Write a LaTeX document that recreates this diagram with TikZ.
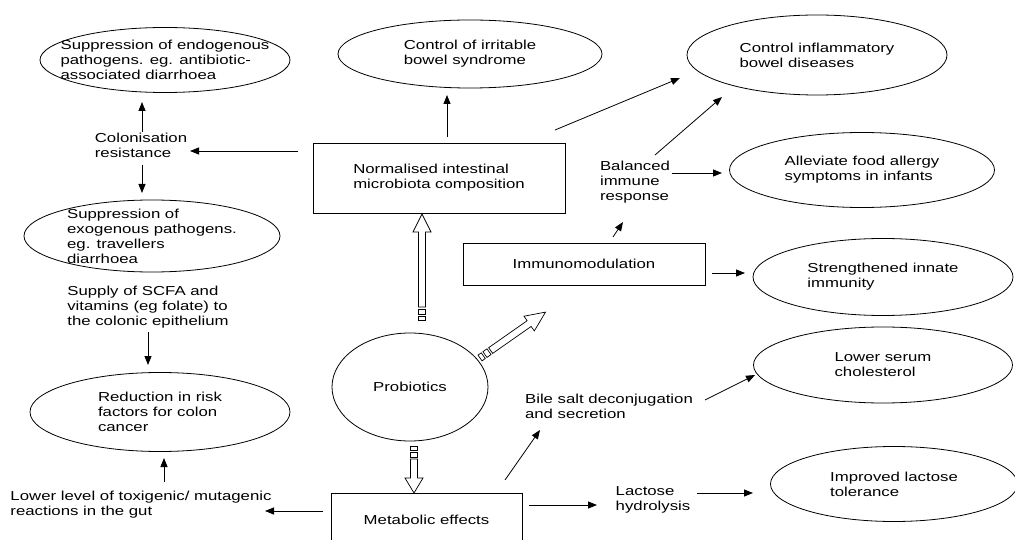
\documentclass[tikz,border=0pt]{standalone}
\usepackage{fontspec}
\setmainfont{Liberation Sans}[FakeStretch=1.29]
\usetikzlibrary{arrows.meta,shapes.geometric}
\tikzset{
  ell/.style={ellipse, draw, inner sep=0pt, line width=0.8pt},
  boxnode/.style={rectangle, draw, inner sep=0pt, line width=0.8pt, align=left, font=\fontsize{13}{15}\selectfont},
  txt/.style={align=left, inner sep=0pt, font=\fontsize{13}{15}\selectfont},
  arr/.style={line width=0.8pt, -{Triangle[length=9pt,width=7pt]}},
  hol/.style={line width=0.7pt, fill=white}
}
\newcommand\HollowArr[4]{%
  \begin{scope}[shift={#1},rotate=#2]
    \draw[hol] (0,-3.5) rectangle (4,3.5);
    \draw[hol] (6,-3.5) rectangle (11,3.5);
    \draw[hol] (13,-3.5) -- ({#3-#4},-3.5) -- ({#3-#4},-9) -- (#3,0) -- ({#3-#4},9) -- ({#3-#4},3.5) -- (13,3.5) -- cycle;
  \end{scope}}
\begin{document}
\begin{tikzpicture}[x=1pt,y=-1pt]
\useasboundingbox (0,0) rectangle (1015,540);
\fill[white] (0,0) rectangle (1015,540);
\clip (0,0) rectangle (1015,540);

% ellipses
\node[ell, minimum width=250, minimum height=65] (e1) at (165,60) {};
\node[txt] (e1t) at (e1) {Suppression of endogenous\\pathogens. eg. antibiotic-\\associated diarrhoea};
\node[ell, minimum width=264, minimum height=68] (ibs) at (470,54) {};
\node[txt] (ibst) at (ibs) {Control of irritable\\bowel syndrome};
\node[ell, minimum width=260, minimum height=80] (ibd) at (817,55) {};
\node[txt] (ibdt) at (ibd) {Control inflammatory\\bowel diseases};
\node[ell, minimum width=265, minimum height=75] (all) at (862,170) {};
\node[txt] (allt) at (all) {Alleviate food allergy\\symptoms in infants};
\node[ell, minimum width=256, minimum height=72] (e2) at (152,236) {};
\node[txt] (e2t) at (e2) {Suppression of\\exogenous pathogens.\\eg. travellers\\diarrhoea};
\node[ell, minimum width=260, minimum height=77] (str) at (883,277) {};
\node[txt] (strt) at (str) {Strengthened innate\\immunity};
\node[ell, minimum width=259, minimum height=76] (chol) at (883,365) {};
\node[txt] (cholt) at (chol) {Lower serum\\cholesterol};
\node[ell, minimum width=260, minimum height=79] (e3) at (160,412) {};
\node[txt] (e3t) at (e3) {Reduction in risk\\factors for colon\\cancer};
\node[ell, minimum width=247, minimum height=75] (imp) at (894,484) {};
\node[txt] (impt) at (imp) {Improved lactose\\tolerance};
\node[ell, minimum width=156, minimum height=108] (prob) at (410,387) {};
\node[txt] (probt) at (prob) {Probiotics};

% boxes
\node[boxnode, minimum width=252, minimum height=70] (nb) at (439,178) {Normalised intestinal\\microbiota composition};
\node[boxnode, minimum width=242, minimum height=42] (imm) at (584,264) {Immunomodulation};
\node[boxnode, minimum width=191, minimum height=54] (met) at (426.5,520) {Metabolic effects};

% free texts
\node[txt] (col) at (141,145) {Colonisation\\resistance};
\node[txt] (sup) at (148,307) {Supply of SCFA and\\vitamins (eg folate) to\\the colonic epithelium};
\node[txt] (bal) at (635,182) {Balanced\\immune\\response};
\node[txt] (bile) at (609,406) {Bile salt deconjugation\\and secretion};
\node[txt] (lac) at (653,500) {Lactose\\hydrolysis};
\node[txt] (low) at (141,505) {Lower level of toxigenic/ mutagenic\\reactions in the gut};

% arrows
\draw[arr] ([xshift=-141pt,yshift=27pt]nb.center) -- ([xshift=49pt,yshift=-6pt]col.center);
\draw[arr] ([xshift=1pt,yshift=13pt]col.center) -- ([xshift=-23pt,yshift=-42pt]e1.center);
\draw[arr] ([xshift=1pt,yshift=-20pt]col.center) -- ([xshift=-10pt,yshift=43pt]e2.center);
\draw[arr] ([yshift=-25pt]sup.center) -- ([xshift=-12pt,yshift=47pt]e3.center);
\draw[arr] ([xshift=23pt,yshift=23pt]low.center) -- ([xshift=4pt,yshift=-46pt]e3.center);
\draw[arr] ([xshift=-103.5pt,yshift=9pt]met.center) -- ([xshift=124pt,yshift=-6pt]low.center);
\draw[arr] ([xshift=8pt,yshift=41pt]nb.center) -- ([xshift=-23pt,yshift=-41pt]ibs.center);
\draw[arr] ([xshift=116pt,yshift=48pt]nb.center) -- ([xshift=-137pt,yshift=-23pt]ibd.center);
\draw[arr] ([xshift=29pt,yshift=27pt]imm.center) -- ([xshift=-12pt,yshift=-40pt]bal.center);
\draw[arr] ([xshift=20pt,yshift=27pt]bal.center) -- ([xshift=-95pt,yshift=-42pt]ibd.center);
\draw[arr] ([xshift=37pt,yshift=9pt]bal.center) -- ([xshift=-140pt,yshift=-3pt]all.center);
\draw[arr] ([xshift=128pt,yshift=-9pt]imm.center) -- ([xshift=-138pt,yshift=4pt]str.center);
\draw[arr] ([xshift=78.5pt,yshift=40pt]met.center) -- ([xshift=-69pt,yshift=-24pt]bile.center);
\draw[arr] ([xshift=96pt,yshift=6pt]bile.center) -- ([xshift=-128pt,yshift=-10pt]chol.center);
\draw[arr] ([xshift=102.5pt,yshift=15pt]met.center) -- ([xshift=-56pt,yshift=-5pt]lac.center);
\draw[arr] ([xshift=44pt,yshift=7pt]lac.center) -- ([xshift=-141pt,yshift=-9pt]imp.center);

% hollow arrows from Probiotics
\HollowArr{([xshift=12pt,yshift=67pt]prob.center)}{90}{106}{18}
\HollowArr{([xshift=70pt,yshift=29pt]prob.center)}{35}{80}{20}
\HollowArr{([xshift=4pt,yshift=-59pt]prob.center)}{-90}{47}{15}
\end{tikzpicture}
\end{document}
